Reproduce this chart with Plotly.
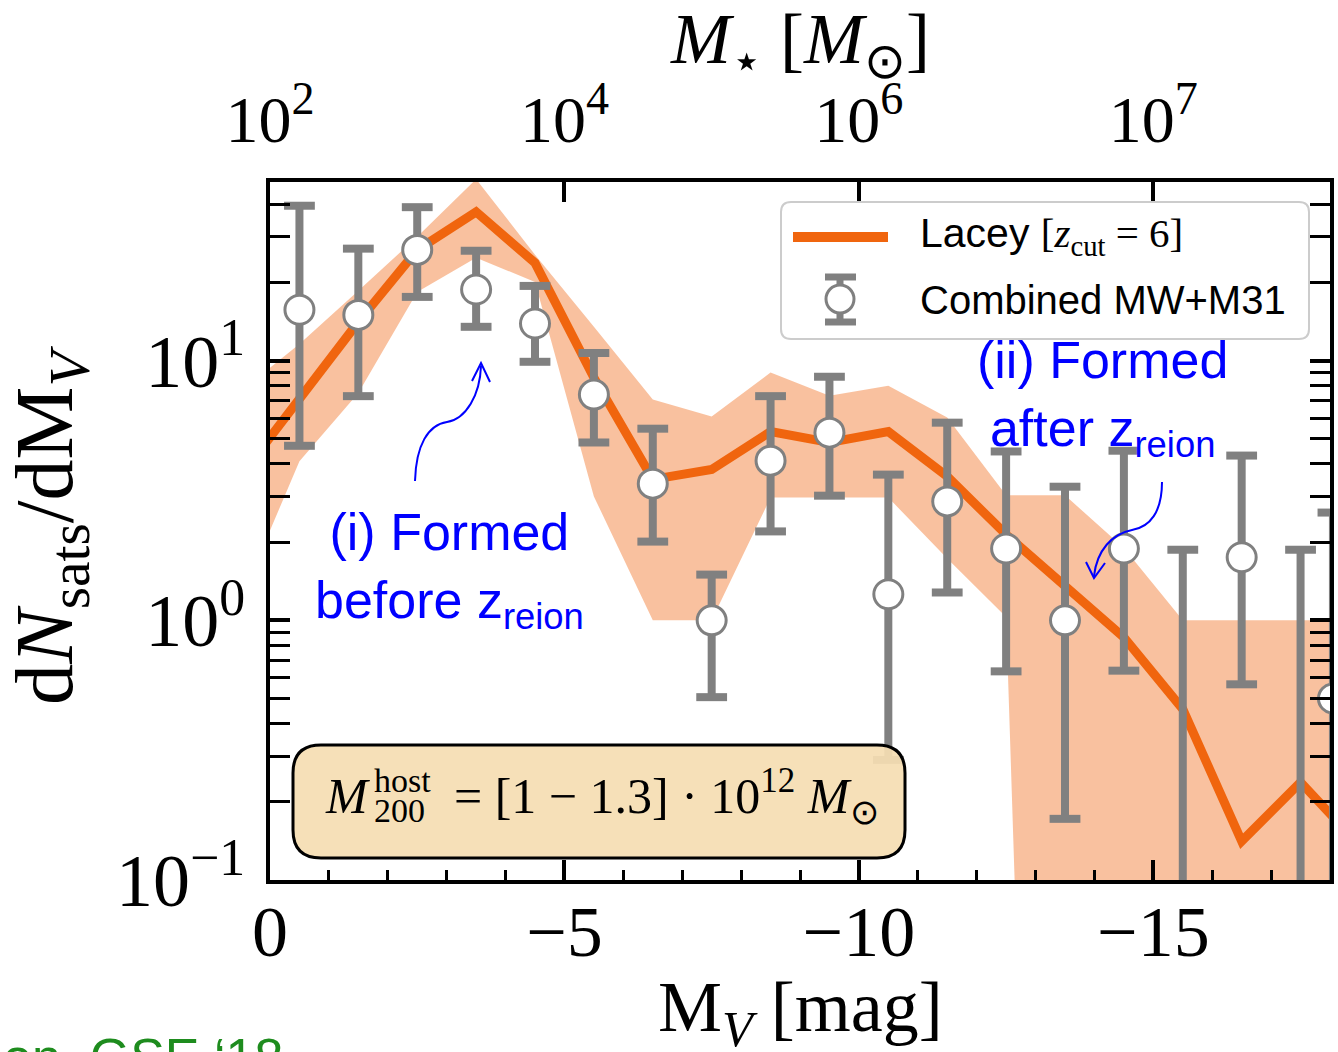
import plotly.graph_objects as go

# ---------------------------------------------------------------------------
# Lacey [z_cut = 6] model: median and 68% scatter per 1-mag bin
# ---------------------------------------------------------------------------
mv_model = [0.5, -0.5, -1.5, -2.5, -3.5, -4.5, -5.5, -6.5, -7.5, -8.5,
            -9.5, -10.5, -11.5, -12.5, -13.5, -14.5, -15.5, -16.5, -17.5, -18.5]
lacey_mid = [3.6, 7.2, 14.1, 26.7, 37.4, 23.8, 8.6, 3.49, 3.81, 5.33,
             4.84, 5.33, 3.58, 2.14, 1.34, 0.86, 0.455, 0.141, 0.238, 0.136]
lacey_hi = [7.6, 11.6, 18.6, 30.0, 50.0, 25.6, 13.5, 7.08, 6.09, 9.0,
            7.33, 8.0, 6.04, 3.03, 3.03, 1.9, 1.0, 1.0, 1.0, 1.0]
lacey_lo = [1.2, 4.1, 7.5, 18.4, 24.9, 20.1, 3.0, 1.0, 1.0, 2.97,
            2.97, 2.97, 1.73, 1.03, 0.0, 0.0, 0.0, 0.0, 0.0, 0.0]

# ---------------------------------------------------------------------------
# Combined MW+M31 satellite luminosity function with Poisson errors
# ---------------------------------------------------------------------------
mv_obs = [-0.5, -1.5, -2.5, -3.5, -4.5, -5.5, -6.5, -7.5, -8.5, -9.5,
          -10.5, -11.5, -12.5, -13.5, -14.5, -15.5, -16.5, -17.5, -18.05]
obs = [15.7, 15.0, 26.7, 18.8, 13.9, 7.4, 3.36, 1.0, 4.12, 5.28,
       1.26, 2.87, 1.89, 1.0, 1.89, 0.0, 1.75, 0.0, 0.5]
obs_hi = [39.5, 27.0, 39.0, 26.5, 19.4, 10.7, 5.47, 1.5, 7.3, 8.67,
          3.64, 5.77, 4.47, 3.27, 4.5, 1.87, 4.31, 1.87, 2.6]
obs_lo = [4.7, 7.3, 17.6, 13.5, 9.9, 4.84, 2.01, 0.506, 2.2, 3.02,
          0.29, 1.28, 0.636, 0.172, 0.64, 0.0, 0.567, 0.0, 0.0]

# Top axis: stellar mass corresponding to the M_V ticks
mv_ticks = [0, -5, -10, -15]
mv_ticktext = ["0", "\u22125", "\u221210", "\u221215"]
mstar_ticktext = ["10<sup>2</sup>", "10<sup>4</sup>", "10<sup>6</sup>", "10<sup>7</sup>"]
y_ticks = [0.1, 1, 10]
y_ticktext = ["10<sup>\u22121</sup>", "10<sup>0</sup>", "10<sup>1</sup>"]

ORANGE = "#F0650E"
BAND = "rgba(240,101,14,0.40)"
GRAY = "#808080"
SERIF = "Liberation Serif"
SANS = "Liberation Sans"
FLOOR = 1e-7          # stand-in for zero on the log axis

W, H = 1338, 1052
L, R, T, B = 270, 1330, 182, 880   # plot frame in pixels


def P(x, y):
    """pixel -> paper coordinates"""
    return (x - L) / (R - L), (B - y) / (B - T)


def rounded_path(x0, y0, x1, y1, r):
    pts = []

    def pt(x, y):
        px, py = P(x, y)
        return f"{px:.5f},{py:.5f}"
    pts.append("M" + pt(x0 + r, y0))
    pts.append("L" + pt(x1 - r, y0))
    pts.append("Q" + pt(x1, y0) + " " + pt(x1, y0 + r))
    pts.append("L" + pt(x1, y1 - r))
    pts.append("Q" + pt(x1, y1) + " " + pt(x1 - r, y1))
    pts.append("L" + pt(x0 + r, y1))
    pts.append("Q" + pt(x0, y1) + " " + pt(x0, y1 - r))
    pts.append("L" + pt(x0, y0 + r))
    pts.append("Q" + pt(x0, y0) + " " + pt(x0 + r, y0))
    return " ".join(pts) + " Z"


def curve_path(cmds):
    out = []
    for c, coords in cmds:
        out.append(c + " ".join("{:.5f},{:.5f}".format(*P(x, y)) for x, y in coords))
    return " ".join(out)


fig = go.Figure()

# model band
fig.add_trace(go.Scatter(x=mv_model, y=[v if v > 0 else FLOOR for v in lacey_lo],
                         mode="lines", line=dict(width=0), hoverinfo="skip",
                         showlegend=False))
fig.add_trace(go.Scatter(x=mv_model, y=lacey_hi, mode="lines", line=dict(width=0),
                         fill="tonexty", fillcolor=BAND, hoverinfo="skip",
                         showlegend=False))
# model median
fig.add_trace(go.Scatter(x=mv_model, y=lacey_mid, mode="lines",
                         line=dict(color=ORANGE, width=9), showlegend=False))

# error bars of the observed counts
bar_x, bar_y, cap_x, cap_y = [], [], [], []
for x, lo, hi in zip(mv_obs, obs_lo, obs_hi):
    bar_x += [x, x, None]
    bar_y += [lo if lo > 0 else FLOOR, hi, None]
    cap_x.append(x)
    cap_y.append(hi)
    if lo > 0:
        cap_x.append(x)
        cap_y.append(lo)
fig.add_trace(go.Scatter(x=bar_x, y=bar_y, mode="lines",
                         line=dict(color=GRAY, width=8), showlegend=False))
fig.add_trace(go.Scatter(x=cap_x, y=cap_y, mode="markers",
                         marker=dict(symbol="line-ew", size=22,
                                     line=dict(color=GRAY, width=8)),
                         showlegend=False))
# observed points (empty bins are not drawn on the log axis)
fig.add_trace(go.Scatter(x=[x for x, v in zip(mv_obs, obs) if v > 0],
                         y=[v for v in obs if v > 0], mode="markers",
                         marker=dict(symbol="circle", size=29, color="white",
                                     line=dict(color=GRAY, width=3)),
                         showlegend=False))
# anchor trace for the top axis
fig.add_trace(go.Scatter(x=[None], y=[None], xaxis="x2", yaxis="y",
                         showlegend=False, hoverinfo="skip"))

axis_common = dict(showgrid=False, zeroline=False, ticks="inside", ticklen=20,
                   tickwidth=4, tickcolor="black")

fig.update_layout(
    width=W, height=H,
    margin=dict(l=L, r=W - R, t=T, b=H - B, autoexpand=False),
    paper_bgcolor="white", plot_bgcolor="white",
    showlegend=False,
    xaxis=dict(range=[0, -18], tickmode="array", tickvals=mv_ticks,
               ticktext=mv_ticktext, showline=True, linewidth=4,
               linecolor="black", mirror=True,
               tickfont=dict(family=SERIF, size=72, color="black"),
               ticklabelstandoff=-14,
               minor=dict(ticks="inside", ticklen=10, tickwidth=3,
                          tickcolor="black", dtick=1, tick0=0),
               **axis_common),
    xaxis2=dict(overlaying="x", side="top", anchor="y", range=[0, -18],
                tickmode="array", tickvals=mv_ticks, ticktext=mstar_ticktext,
                showline=False,
                tickfont=dict(family=SERIF, size=66, color="black"),
                ticklabelstandoff=26,
                **axis_common),
    yaxis=dict(type="log", range=[-1, 1.688], tickmode="array",
               tickvals=y_ticks, ticktext=y_ticktext, showline=True,
               linewidth=4, linecolor="black", mirror="allticks",
               tickfont=dict(family=SERIF, size=74, color="black"),
               ticklabelstandoff=6,
               minor=dict(ticks="inside", ticklen=10, tickwidth=3,
                          tickcolor="black", tickmode="array",
                          tickvals=[k * 10.0 ** e for e in (-1, 0, 1)
                                    for k in range(2, 10)]),
               **axis_common),
)

shapes = []
annotations = []

# legend
shapes.append(dict(type="path", xref="paper", yref="paper", layer="above",
                   path=rounded_path(781, 202, 1309, 339, 10),
                   fillcolor="white", line=dict(color="#CCCCCC", width=2)))
lx0, ly = P(793, 237)
lx1, _ = P(888, 237)
shapes.append(dict(type="line", xref="paper", yref="paper", layer="above",
                   x0=lx0, x1=lx1, y0=ly, y1=ly,
                   line=dict(color=ORANGE, width=10)))
ex, ey_top = P(840, 277)
_, ey_bot = P(840, 322)
cx0, _ = P(825, 277)
cx1, _ = P(856, 277)
shapes.append(dict(type="line", xref="paper", yref="paper", layer="above",
                   x0=ex, x1=ex, y0=ey_bot, y1=ey_top,
                   line=dict(color=GRAY, width=7)))
for yy in (ey_top, ey_bot):
    shapes.append(dict(type="line", xref="paper", yref="paper", layer="above",
                       x0=cx0, x1=cx1, y0=yy, y1=yy,
                       line=dict(color=GRAY, width=7)))
c0x, c0y = P(826, 313)
c1x, c1y = P(854, 285)
shapes.append(dict(type="circle", xref="paper", yref="paper", layer="above",
                   x0=c0x, x1=c1x, y0=c0y, y1=c1y, fillcolor="white",
                   line=dict(color=GRAY, width=3)))
for text, yy, size in [("Lacey <span style='font-family:Liberation Serif'>[<i>z</i><sub>cut</sub> = 6]</span>", 236, 41),
                       ("Combined MW+M31", 300, 40)]:
    ax_, ay_ = P(918, yy)
    annotations.append(dict(x=ax_, y=ay_, xref="paper", yref="paper",
                            xanchor="left", yanchor="middle", showarrow=False,
                            text=text, font=dict(family=SANS, size=size, color="black")))

# host-mass box
shapes.append(dict(type="path", xref="paper", yref="paper", layer="above",
                   path=rounded_path(293, 745, 905, 858, 28),
                   fillcolor="rgba(245,222,179,0.93)",
                   line=dict(color="black", width=3)))
for text, x, y, size in [("<i>M</i>", 323, 796, 50),
                         ("host", 372, 780, 34),
                         ("200", 372, 810, 34),
                         ("= [1 \u2212 1.3] \u00b7 10<sup>12</sup> <i>M</i><sub>\u2299</sub>", 452, 796, 50)]:
    ax_, ay_ = P(x, y)
    annotations.append(dict(x=ax_, y=ay_, xref="paper", yref="paper",
                            xanchor="left", yanchor="middle", showarrow=False,
                            text=text, font=dict(family=SERIF, size=size, color="black")))

# blue notes
for text, x, y in [("(i) Formed<br>before z<sub>reion</sub>", 449, 570),
                   ("(ii) Formed<br>after z<sub>reion</sub>", 1102, 398)]:
    ax_, ay_ = P(x, y)
    annotations.append(dict(x=ax_, y=ay_, xref="paper", yref="paper",
                            xanchor="center", yanchor="middle", align="center",
                            showarrow=False, text=text,
                            font=dict(family=SANS, size=52, color="#0000FF")))

# curved arrows
arrow_paths = [
    curve_path([("M", [(415, 481)]),
                ("C", [(416, 445), (428, 425), (447, 422)]),
                ("C", [(466, 419), (480, 395), (481, 366)])]),
    curve_path([("M", [(472, 381)]), ("L", [(481, 363)]), ("L", [(490, 382)])]),
    curve_path([("M", [(1162, 482)]),
                ("C", [(1162, 512), (1150, 527), (1132, 530)]),
                ("C", [(1112, 534), (1097, 550), (1094, 576)])]),
    curve_path([("M", [(1086, 562)]), ("L", [(1094, 578)]), ("L", [(1105, 563)])]),
]
for p in arrow_paths:
    shapes.append(dict(type="path", xref="paper", yref="paper", layer="above",
                       path=p, line=dict(color="#0000FF", width=2)))

# axis titles
for text, x, y, angle, size in [
        ("d<i>N</i><sub>sats</sub>/dM<sub><i>V</i></sub>", 50, 525, -90, 82),
        ("M<sub><i>V</i></sub> [mag]", 800, 1012, 0, 72),
        ("<i>M</i><sub>\u22c6</sub> [<i>M</i><sub>\u2299</sub>]", 800, 44, 0, 72)]:
    ax_, ay_ = P(x, y)
    annotations.append(dict(x=ax_, y=ay_, xref="paper", yref="paper",
                            xanchor="center", yanchor="middle", showarrow=False,
                            textangle=angle, text=text,
                            font=dict(family=SERIF, size=size, color="black")))

# slide footer
ax_, ay_ = P(285, 1026)
annotations.append(dict(x=ax_, y=ay_, xref="paper", yref="paper",
                        xanchor="right", yanchor="top", showarrow=False,
                        text="on, GSE \u201818",
                        font=dict(family=SANS, size=52, color="#1E8C1E")))

fig.update_layout(shapes=shapes, annotations=annotations)
fig.write_html("out.html")
